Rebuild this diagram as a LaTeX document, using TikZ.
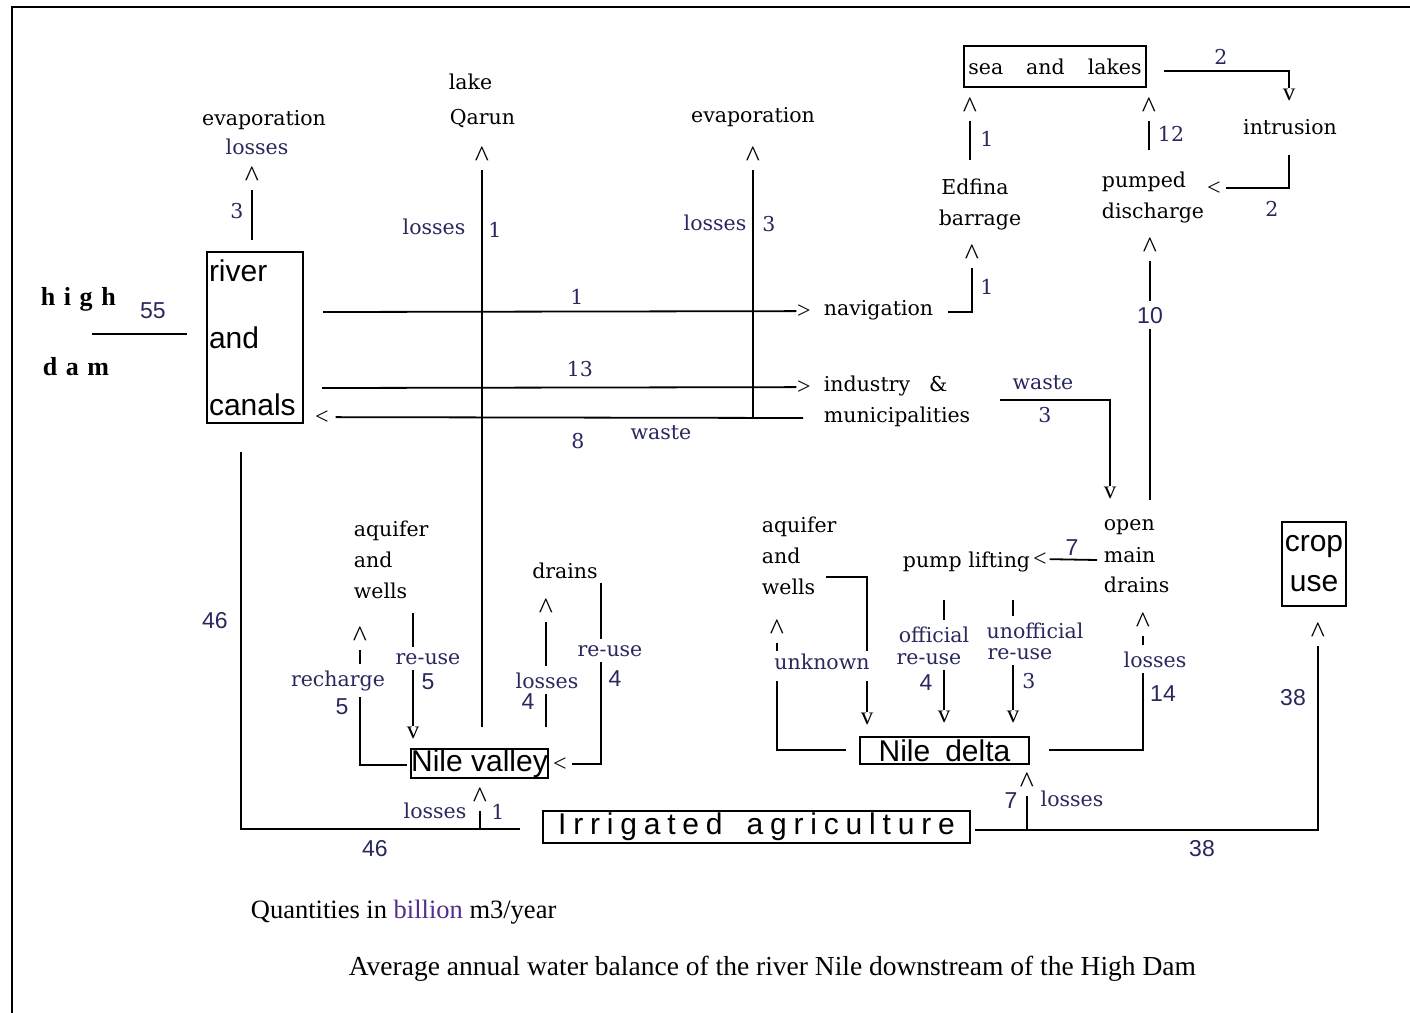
\documentclass[tikz,border=0pt]{standalone}
\usepackage{fontspec}
\setmainfont{DejaVu Serif}
\newfontfamily\sansf{Liberation Sans}
\newfontfamily\timesf{Liberation Serif}
\definecolor{navy}{RGB}{40,40,95}
\definecolor{bill}{RGB}{85,45,140}
\begin{document}
\begin{tikzpicture}[x=0.5pt,y=-0.5pt,line width=0.9pt,
  txt/.style={font=\fontsize{10.25}{12}\selectfont,inner sep=0.5pt,anchor=base},
  txtw/.style={txt,anchor=base west},
  lab/.style={txt,text=navy},
  labw/.style={lab,fill=white,inner xsep=1pt,inner ysep=3pt},
  num/.style={txt,text=navy},
  nums/.style={font=\sansf\fontsize{11.5}{13}\selectfont,text=navy,inner sep=0.5pt,anchor=base},
  sbox/.style={draw,font=\sansf\fontsize{15}{17}\selectfont,inner sep=0pt},
  arrc/.style={font=\timesf\fontsize{15}{17}\selectfont,inner sep=0pt,anchor=base},
  arrv/.style={font=\timesf\fontsize{12.5}{14}\selectfont,inner sep=0pt,anchor=base},
  arrg/.style={font=\timesf\fontsize{12}{14}\selectfont,inner sep=0pt,anchor=base},
  toc/.style={shorten >=1.5pt},
]
\useasboundingbox (0,0) rectangle (1410,1013);
\fill[white] (0,0) rectangle (1410,1013);
\draw[line width=1.1pt] (12,1013) -- (12,7) -- (1410,7);

% ---------- boxes ----------
\node[sbox,minimum width=48pt,minimum height=85.5pt,text width=46pt,align=left,font=\sansf\fontsize{15}{33.5}\selectfont] (riv) at (255,337.5) {river\\and\\canals};
\node[sbox,minimum width=91pt,minimum height=20.5pt,font=\fontsize{10.25}{12}\selectfont] (sea) at (1055,66.5) {sea\hspace{11.5pt}and\hspace{11.5pt}lakes};
\node[sbox,minimum width=68.5pt,minimum height=14.5pt] (val) at (479.5,763.5) {Nile valley};
\node[sbox,minimum width=84.5pt,minimum height=13.5pt] (del) at (944.5,750.5) {Nile\hspace{7.5pt}delta};
\node[sbox,minimum width=213.5pt,minimum height=16pt] (irr) at (756.5,827) {\addfontfeatures{LetterSpace=22.7}Irrigated\hspace{12pt}agriculture};
\node[sbox,minimum width=32pt,minimum height=42pt,align=center,font=\sansf\fontsize{15}{20}\selectfont] (crop) at (1314,564) {crop\\use};

% ---------- arrow tips (typed characters) ----------
\node[arrc] (c1) at (252,186) {\textasciicircum};
\node[arrc] (c2) at (482,166) {\textasciicircum};
\node[arrc] (c3) at (753,166) {\textasciicircum};
\node[arrc] (c4) at (972,264) {\textasciicircum};
\node[arrc] (c5) at (970,117) {\textasciicircum};
\node[arrc] (c6) at (1149,117) {\textasciicircum};
\node[arrc] (c7) at (1150,257) {\textasciicircum};
\node[arrc] (c8) at (777,639) {\textasciicircum};
\node[arrc] (c9) at (1143,632) {\textasciicircum};
\node[arrc] (c10) at (1027,792) {\textasciicircum};
\node[arrc] (c11) at (1318,642) {\textasciicircum};
\node[arrc] (c12) at (480,807) {\textasciicircum};
\node[arrc] (c13) at (360,646) {\textasciicircum};
\node[arrc] (c14) at (546,618) {\textasciicircum};
\node[arrv] (v1) at (1289,100.7) {v};
\node[arrv] (v2) at (1110,498.7) {v};
\node[arrv] (v3) at (867,724.7) {v};
\node[arrv] (v4) at (944,722.7) {v};
\node[arrv] (v5) at (1013,722.7) {v};
\node[arrv] (v6) at (413,738.7) {v};
\node[arrg] (g1) at (804,318) {>};
\node[arrg] (g2) at (804,394) {>};
\node[arrg] (l1) at (322,424) {<};
\node[arrg] (l2) at (1214,195) {<};
\node[arrg] (l3) at (1040,566) {<};
\node[arrg] (l4) at (560,771) {<};

% ---------- connector ends ----------
\coordinate (hdA) at (92,334);   \coordinate (hdB) at (187,334);
\coordinate (rivT) at (252,240);
\coordinate (navS) at (323,312);  \coordinate (indS) at (322,388);
\coordinate (munE) at (803,418);  \coordinate (evJ) at (753,418);
\coordinate (qarB) at (482,727);
\coordinate (navE) at (948,312);  \coordinate (edT) at (970,160);
\coordinate (seaE) at (1164,71);  \coordinate (intB) at (1289,155);
\coordinate (pumT) at (1149,150); \coordinate (omdT) at (1150,500);
\coordinate (wasW) at (1000,400); \coordinate (omdL) at (1097,560);
\coordinate (plO) at (944,600);   \coordinate (plU) at (1013,600);
\coordinate (welE) at (826,577);  \coordinate (delW) at (846,750);
\coordinate (delE) at (1049,750); \coordinate (irrJ) at (1027,830);
\coordinate (irrE) at (975,830);  \coordinate (rivB) at (241,452);
\coordinate (irrW) at (520,829);  \coordinate (irrV) at (480,829);
\coordinate (valW) at (407,765);  \coordinate (welV) at (413,613);
\coordinate (valD) at (546,727);  \coordinate (drnT) at (601,583);

% ---------- connectors ----------
\draw (hdA) -- (hdB);
\draw[toc] (rivT) -- (c1.south);
\draw (navS) -- (g1.west);
\draw (indS) -- (g2.west);
\draw[shorten >=3pt] (munE) -- (l1.east);
\draw[toc] (evJ) -- (c3.south);
\draw[toc] (qarB) -- (c2.south);
\draw[toc] (navE) -| (c4.south);
\draw[toc] (edT) -- (c5.south);
\draw (seaE) -| (v1.north);
\draw[shorten >=2pt] (intB) |- (l2.east);
\draw[toc] (pumT) -- (c6.south);
\draw[toc] (omdT) -- (c7.south);
\draw (wasW) -| (v2.north);
\draw[shorten >=1pt] (omdL) -- (l3.east);
\draw (plO) -- (v4.north);
\draw (plU) -- (v5.north);
\draw (welE) -| (v3.north);
\draw[toc] (delW) -| (c8.south);
\draw[toc] (delE) -| (c9.south);
\draw[toc] (irrJ) -- (c10.south);
\draw[toc] (irrE) -| (c11.south);
\draw (rivB) |- (irrW);
\draw[toc] (irrV) -- (c12.south);
\draw[toc] (valW) -| (c13.south);
\draw (welV) -- (v6.north);
\draw[toc] (valD) -- (c14.south);
\draw[shorten >=2pt] (drnT) |- (l4.east);

% ---------- texts ----------
\node[font=\timesf\bfseries\fontsize{13}{15}\selectfont\addfontfeatures{LetterSpace=33},inner sep=0pt,anchor=base west] (high) at (40,305) {high};
\node[font=\timesf\bfseries\fontsize{13}{15}\selectfont\addfontfeatures{LetterSpace=33},inner sep=0pt,anchor=base west] (dam) at (42,375) {dam};
\node[nums] (n55) at (153,318) {55};

\node[txt] (ev1) at (264,125) {evaporation};
\node[lab] (ls1) at (257,154) {losses};
\node[num] (n3a) at (237,218) {3};

\node[txtw] (lake1) at (447,89) {lake};
\node[txtw] (lake2) at (448,124) {Qarun};
\node[lab] (ls2) at (434,234) {losses};
\node[num] (n1a) at (495,237) {1};

\node[txt] (ev2) at (753,122) {evaporation};
\node[lab] (ls3) at (715,230) {losses};
\node[num] (n3b) at (769,231) {3};

\node[num] (n1b) at (577,304) {1};
\node[num] (n13) at (580,376) {13};
\node[num] (n8) at (578,448) {8};
\node[lab] (ws1) at (661,439) {waste};

\node[txtw] (nav) at (822,315) {navigation};
\node[txtw] (ind1) at (822,391) {industry\hspace{9.5pt}\&};
\node[txtw] (ind2) at (822,422) {municipalities};

\node[txt] (ed1) at (975,194) {Edfina};
\node[txt] (ed2) at (980,225) {barrage};
\node[num] (n1c) at (987,146) {1};
\node[num] (n1d) at (987,294) {1};
\node[num] (n12) at (1171,141) {12};
\node[num] (n2a) at (1221,64) {2};
\node[txt] (intr) at (1290,134) {intrusion};
\node[num] (n2b) at (1272,216) {2};
\node[txtw] (pd1) at (1100,187) {pumped};
\node[txtw] (pd2) at (1100,218) {discharge};
\node[nums,fill=white,inner xsep=1pt,inner ysep=3pt] (n10) at (1150,323) {10};

\node[lab] (ws2) at (1043,389) {waste};
\node[num] (n3c) at (1045,422) {3};
\node[txtw] (om1) at (1102,530) {open};
\node[txtw] (om2) at (1102,562) {main};
\node[txtw] (om3) at (1102,592) {drains};
\node[txtw] (pl) at (901,567) {pump lifting};
\node[nums] (n7a) at (1072,555) {7};

\node[txtw] (aq1) at (760,532) {aquifer};
\node[txtw] (aq2) at (760,563) {and};
\node[txtw] (aq3) at (760,594) {wells};
\node[labw,inner ysep=1pt,text depth=5pt] (unk) at (822,669) {unknown};
\node[labw] (of1) at (934,642) {official};
\node[labw] (of2) at (929,664) {re-use};
\node[nums] (n4a) at (926,690) {4};
\node[labw] (uo1) at (1035,638) {unofficial};
\node[labw] (uo2) at (1020,659) {re-use};
\node[num] (n3d) at (1029,688) {3};
\node[labw] (ls4) at (1155,667) {losses};
\node[nums] (n14) at (1163,701) {14};
\node[nums] (n7b) at (1011,808) {7};
\node[lab] (ls5) at (1072,806) {losses};

\node[txtw] (vq1) at (352,536) {aquifer};
\node[txtw] (vq2) at (352,567) {and};
\node[txtw] (vq3) at (352,598) {wells};
\node[txt] (drn) at (565,578) {drains};
\node[labw] (ru1) at (428,664) {re-use};
\node[nums] (n5a) at (428,689) {5};
\node[labw] (rch) at (338,686) {recharge};
\node[nums] (n5b) at (342,714) {5};
\node[labw] (ls6) at (547,688) {losses};
\node[nums] (n4b) at (528,709) {4};
\node[labw] (ru2) at (610,656) {re-use};
\node[nums] (n4c) at (615,686) {4};

\node[nums] (n46a) at (215,628) {46};
\node[nums] (n46b) at (375,856) {46};
\node[lab] (ls7) at (435,818) {losses};
\node[num] (n1e) at (498,819) {1};
\node[nums] (n38a) at (1293,705) {38};
\node[nums] (n38b) at (1202,856) {38};

\node[font=\timesf\fontsize{13.25}{15}\selectfont,inner sep=0pt,anchor=base west] (qty) at (250,918) {Quantities in {\color{bill}billion} m3/year};
\node[font=\timesf\fontsize{13.75}{16}\selectfont,inner sep=0pt,anchor=base west] (cap) at (348,975) {Average annual water balance of the river Nile downstream of the High Dam};
\end{tikzpicture}
\end{document}
